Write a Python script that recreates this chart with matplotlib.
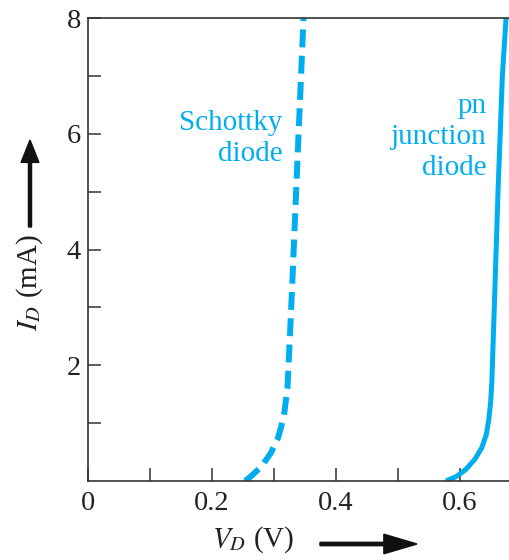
import numpy as np
import matplotlib
matplotlib.use('Agg')
import matplotlib.pyplot as plt
from matplotlib.patches import FancyArrow

plt.rcParams['font.family'] = ['Liberation Serif', 'DejaVu Serif']
plt.rcParams['mathtext.fontset'] = 'stix'

# curves (V in volts, I in mA)
schottky_v = [0.254, 0.265, 0.280, 0.295, 0.307, 0.316, 0.322, 0.326, 0.331, 0.336, 0.342, 0.348]
schottky_i = [0.0, 0.10, 0.25, 0.48, 0.75, 1.10, 1.60, 2.50, 3.70, 5.00, 6.50, 8.0]
pn_v = [0.578, 0.595, 0.610, 0.625, 0.636, 0.643, 0.647, 0.650, 0.652, 0.656, 0.662, 0.669, 0.675]
pn_i = [0.0, 0.08, 0.20, 0.38, 0.58, 0.80, 1.05, 1.35, 1.70, 3.0, 5.0, 7.0, 8.0]

xticks = [0, 0.2, 0.4, 0.6]
xticklabels = ['0', '0.2', '0.4', '0.6']
yticks = [2, 4, 6, 8]

blue = '#00aeef'
dark = '#333333'

fig = plt.figure(figsize=(5.1, 5.6), dpi=100)
ax = fig.add_axes([88 / 510, 1 - 481 / 560, 1 - 88 / 510 + 0.002, (481 - 18) / 560])

ax.plot(schottky_v, schottky_i, color=blue, lw=4.3, dashes=(3, 1.4), solid_capstyle='butt')
ax.plot(pn_v, pn_i, color=blue, lw=3.6, solid_capstyle='butt')

ax.set_xlim(0, 0.683)
ax.set_ylim(0, 8)
ax.spines['right'].set_visible(False)
for s in ['left', 'bottom', 'top']:
    ax.spines[s].set_color(dark)
    ax.spines[s].set_linewidth(1.2)

ax.set_xticks(xticks)
ax.set_xticklabels(xticklabels)
ax.set_xticks([0.1, 0.3, 0.5], minor=True)
ax.set_yticks(yticks)
ax.set_yticks([1, 3, 5, 7], minor=True)
ax.tick_params(which='both', direction='in', length=9.5, width=1.1, color=dark,
               labelsize=20.5, labelcolor='#222222')
ax.tick_params(axis='x', pad=7)
ax.tick_params(axis='y', pad=5)

ax.text(0.314, 5.92, 'Schottky\ndiode', color=blue, fontsize=21, ha='right', va='center',
        linespacing=1.25)
ax.text(0.644, 5.94, 'pn\njunction\ndiode', color=blue, fontsize=21, ha='right', va='center',
        linespacing=1.25)

# axis labels with arrows
fig.text(30 / 510, 1 - 282 / 560, r'$I_D$ (mA)', rotation=90, fontsize=21,
         ha='center', va='center', color='#222222')
fig.text(253 / 510, 1 - 540 / 560, r'$V_D$ (V)', fontsize=21,
         ha='center', va='center', color='#222222')
fig.patches.append(FancyArrow(
    30 / 510, 1 - 227 / 560, 0, 87 / 560, width=0.006, head_width=0.035,
    head_length=0.04, length_includes_head=True, color='#111111', transform=fig.transFigure))
fig.patches.append(FancyArrow(
    320 / 510, 1 - 544 / 560, 97 / 510, 0, width=0.006, head_width=0.035,
    head_length=0.065, length_includes_head=True, color='#111111', transform=fig.transFigure))

fig.savefig('out.png', dpi=100)
